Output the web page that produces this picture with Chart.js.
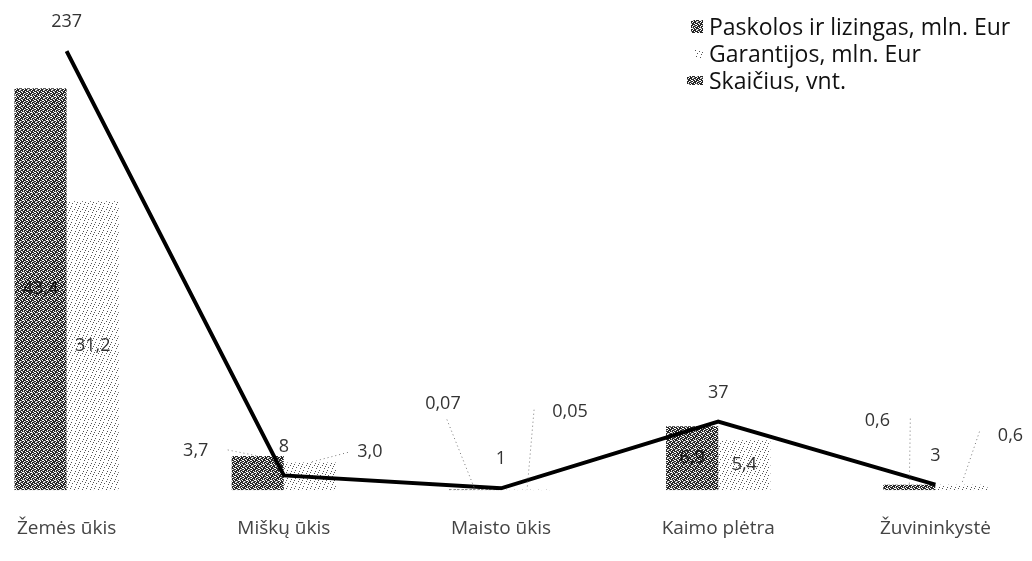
<!DOCTYPE html>
<html lang="lt">
<head>
<meta charset="utf-8">
<title>Paskolos, garantijos ir skaičius pagal sritis</title>
<script src="https://cdn.jsdelivr.net/npm/chart.js@4/dist/chart.umd.min.js"></script>
<style>
  html, body { margin: 0; padding: 0; background: #fff; overflow: hidden; }
  body { width: 1032px; height: 561px; position: relative; font-family: "Open Sans", "Noto Sans", sans-serif; }
  #wrap { position: absolute; left: -42px; top: 0; width: 1086px; height: 561px; }
  #legend { position: absolute; left: 682px; top: 13px; font-size: 23px; color: #111; line-height: 27px; }
  #legend div { display: flex; align-items: center; white-space: nowrap; }
  #legend .sw { width: 21px; display: flex; justify-content: flex-end; margin-right: 6px; }
</style>
</head>
<body>
<div id="wrap"><canvas id="chart"></canvas></div>
<div id="legend"></div>
<script>
const categories = ["Žemės ūkis", "Miškų ūkis", "Maisto ūkis", "Kaimo plėtra", "Žuvininkystė"];
const seriesNames = ["Paskolos ir lizingas, mln. Eur", "Garantijos, mln. Eur", "Skaičius, vnt."];
const loans = [43.4, 3.7, 0.07, 6.9, 0.6];
const guarantees = [31.2, 3.0, 0.05, 5.4, 0.6];
const counts = [237, 8, 1, 37, 3];

// scanned look: dark woven fill and light dotted fill
function makePattern(kind) {
  const c = document.createElement("canvas");
  c.width = 8;
  c.height = 8;
  const g = c.getContext("2d");
  if (kind === "dark") {
    g.fillStyle = "#262626";
    g.fillRect(0, 0, 8, 8);
    g.fillStyle = "#ffffff";
    [[0,0],[4,0],[2,1],[6,1],[1,2],[5,2],[3,3],[7,3],[0,4],[4,4],[2,5],[6,5],[1,6],[5,6],[3,7],[7,7],[1,0],[5,4]]
      .forEach(([x, y]) => g.fillRect(x, y, 1, 1));
    g.fillStyle = "#8a8a8a";
    [[2,0],[6,2],[0,3],[4,6],[7,1],[3,5],[5,1],[1,7]].forEach(([x, y]) => g.fillRect(x, y, 1, 1));
  } else {
    g.fillStyle = "#ffffff";
    g.fillRect(0, 0, 8, 8);
    g.fillStyle = "#555555";
    [[0,0],[4,1],[2,3],[6,4],[1,6],[5,7],[7,2]].forEach(([x, y]) => g.fillRect(x, y, 1, 1));
  }
  return g.createPattern(c, "repeat");
}

const darkFill = makePattern("dark");
const lightFill = makePattern("light");

function fmt(v) {
  return (v < 0.1 ? v.toFixed(2) : v.toFixed(1)).replace(".", ",");
}

// small bars get their label outside, joined by a dotted leader
// [text dx, text dy, leader dx, leader dy] from the bar's top centre
const outside = {
  "0-1": [-62, -5, -30, -6],
  "0-2": [-32, -86, -28, -70],
  "0-4": [-32, -64, 1, -66],
  "1-1": [60, -11, 38, -10],
  "1-2": [43, -78, 7, -80],
  "1-4": [49, -49, 18, -53],
};

const valueLabels = {
  id: "valueLabels",
  afterDatasetsDraw(chart) {
    const ctx = chart.ctx;
    ctx.save();
    ctx.font = "18px 'Open Sans', 'Noto Sans', sans-serif";
    ctx.textAlign = "center";
    ctx.textBaseline = "middle";
    chart.data.datasets.forEach((ds, di) => {
      const meta = chart.getDatasetMeta(di);
      meta.data.forEach((el, i) => {
        const v = ds.data[i];
        if (ds.type === "line") {
          ctx.fillStyle = "#333";
          ctx.fillText(String(v), el.x, el.y - 29);
          return;
        }
        const key = di + "-" + i;
        if (outside[key]) {
          const [tx, ty, lx, ly] = outside[key];
          ctx.strokeStyle = "#777";
          ctx.lineWidth = 1;
          ctx.setLineDash([1, 3]);
          ctx.beginPath();
          ctx.moveTo(el.x + lx, el.y + ly);
          ctx.lineTo(el.x, el.y);
          ctx.stroke();
          ctx.setLineDash([]);
          ctx.fillStyle = "#333";
          ctx.fillText(fmt(v), el.x + tx, el.y + ty);
        } else {
          ctx.fillStyle = di === 0 ? "#111" : "#333";
          ctx.fillText(fmt(v), el.x, (el.y + el.base) / 2);
        }
      });
    });
    ctx.restore();
  },
};

const chart = new Chart(document.getElementById("chart"), {
  data: {
    labels: categories,
    datasets: [
      {
        type: "bar",
        label: seriesNames[0],
        data: loans,
        backgroundColor: darkFill,
        yAxisID: "y",
        order: 1,
      },
      {
        type: "bar",
        label: seriesNames[1],
        data: guarantees,
        backgroundColor: lightFill,
        yAxisID: "y",
        order: 1,
      },
      {
        type: "line",
        label: seriesNames[2],
        data: counts,
        borderColor: "#000",
        borderWidth: 4,
        pointRadius: 0,
        tension: 0,
        yAxisID: "y1",
        order: 0,
      },
    ],
  },
  options: {
    responsive: true,
    maintainAspectRatio: false,
    animation: false,
    layout: { padding: { top: 27, bottom: 2, left: 0, right: 0 } },
    datasets: {
      bar: { categoryPercentage: 0.48, barPercentage: 1.0 },
    },
    plugins: {
      legend: { display: false },
      tooltip: { enabled: false },
    },
    scales: {
      x: {
        grid: { display: false },
        border: { display: false },
        ticks: {
          color: "#444",
          padding: 19,
          maxRotation: 0,
          font: { family: "'Open Sans', 'Noto Sans', sans-serif", size: 19 },
        },
      },
      y: { display: false, min: 0, max: 50 },
      y1: { display: false, min: 0, max: 250, position: "right" },
    },
  },
  plugins: [valueLabels],
});

// legend built from the chart's datasets
const legendEl = document.getElementById("legend");
const swatchSizes = [[12, 13], [8, 8], [16, 9]];
const swatchFills = [darkFill, lightFill, darkFill];
chart.data.datasets.forEach((ds, i) => {
  const row = document.createElement("div");
  const box = document.createElement("span");
  box.className = "sw";
  const sw = document.createElement("canvas");
  sw.width = swatchSizes[i][0];
  sw.height = swatchSizes[i][1];
  const g = sw.getContext("2d");
  g.fillStyle = swatchFills[i];
  g.fillRect(0, 0, sw.width, sw.height);
  box.appendChild(sw);
  const txt = document.createElement("span");
  txt.textContent = ds.label;
  row.appendChild(box);
  row.appendChild(txt);
  legendEl.appendChild(row);
});
</script>
</body>
</html>
